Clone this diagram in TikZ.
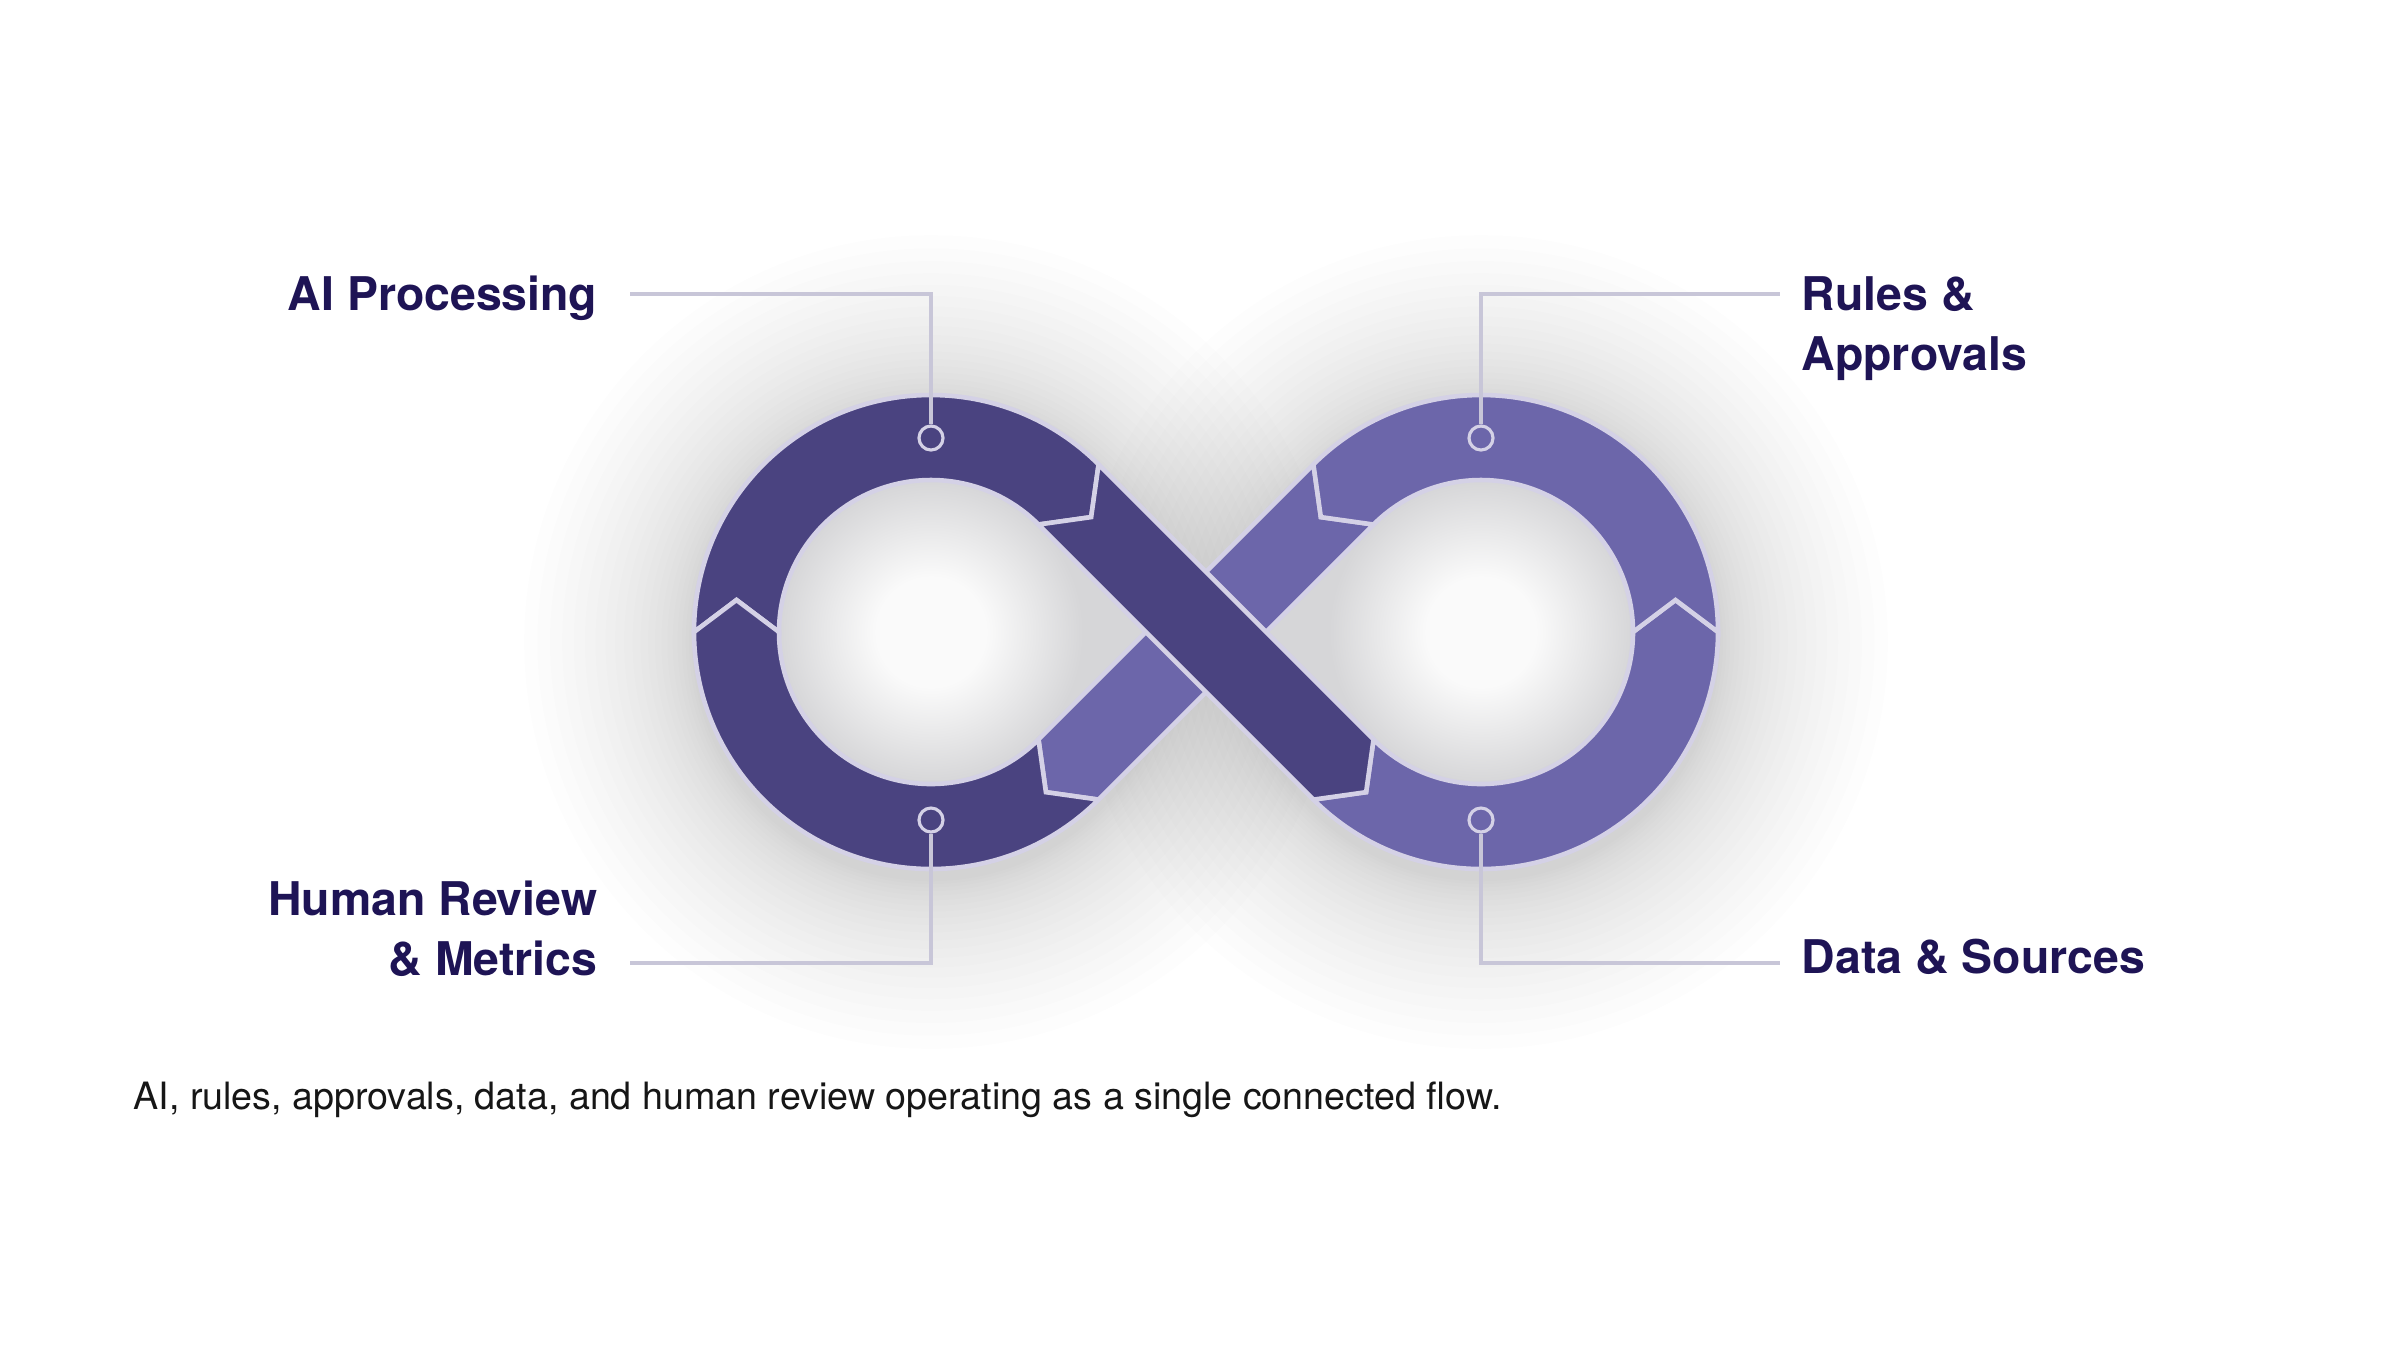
\documentclass[tikz,border=0pt]{standalone}
\usepackage{fontspec}
\setmainfont{TeX Gyre Heros}
\usetikzlibrary{calc}
\definecolor{darkc}{RGB}{74,67,128}
\definecolor{lightc}{RGB}{108,102,170}
\definecolor{gapc}{RGB}{212,209,230}
\definecolor{linec}{RGB}{200,198,216}
\definecolor{navy}{RGB}{30,20,85}
\definecolor{capc}{RGB}{22,22,22}
\definecolor{holein}{RGB}{250,250,250}
\definecolor{holeout}{RGB}{214,214,216}
\pgfdeclareradialshading{holeshade}{\pgfpoint{0bp}{0bp}}{color(0bp)=(holein); color(9bp)=(holein); color(25bp)=(holeout); color(50bp)=(holeout)}
\begin{document}
\begin{tikzpicture}[x=0.01cm,y=0.01cm,
  seg/.style={draw=gapc, line width=1.3pt, line join=miter},
  conn/.style={draw=linec, line width=1.4pt},
  dot/.style={circle, draw=gapc, line width=0.9pt, minimum size=0.24cm, inner sep=0pt},
  lab/.style={font=\fontsize{13.2}{16}\selectfont\bfseries, text=navy, inner sep=0pt},
  captext/.style={font=\fontsize{10.7}{13}\selectfont, text=capc, inner sep=0pt}]
\useasboundingbox (0,0) rectangle (2400,-1350);
\fill[white] (0,0) rectangle (2400,-1350);
\def\RR{237}
\def\rr{152}
\def\mm{194.5}
\def\dd{32}
\coordinate (Lc) at (931,-632);
\coordinate (Rc) at (1481,-632);
% soft halo
\foreach \k in {1,...,22}{
  \fill[black, opacity=0.0062] ($(Lc)+(0,-10)$) circle[radius=\RR+2*\k+0.26*\k*\k];
  \fill[black, opacity=0.0062] ($(Rc)+(0,-10)$) circle[radius=\RR+2*\k+0.26*\k*\k];
}
% chevron points, left loop (clockwise flow)
\coordinate (LO45) at ($(Lc)+(45:\RR)$);
\coordinate (LI45) at ($(Lc)+(45:\rr)$);
\coordinate (LV45) at ($(Lc)+(45:\mm)+(-45:\dd)$);
\coordinate (LO180) at ($(Lc)+(180:\RR)$);
\coordinate (LI180) at ($(Lc)+(180:\rr)$);
\coordinate (LV180) at ($(Lc)+(180:\mm)+(90:\dd)$);
\coordinate (LO315) at ($(Lc)+(315:\RR)$);
\coordinate (LI315) at ($(Lc)+(315:\rr)$);
\coordinate (LV315) at ($(Lc)+(315:\mm)+(225:\dd)$);
% right loop (counterclockwise flow)
\coordinate (RO225) at ($(Rc)+(225:\RR)$);
\coordinate (RI225) at ($(Rc)+(225:\rr)$);
\coordinate (RV225) at ($(Rc)+(225:\mm)+(315:\dd)$);
\coordinate (RO0) at ($(Rc)+(0:\RR)$);
\coordinate (RI0) at ($(Rc)+(0:\rr)$);
\coordinate (RV0) at ($(Rc)+(0:\mm)+(90:\dd)$);
\coordinate (RO135) at ($(Rc)+(135:\RR)$);
\coordinate (RI135) at ($(Rc)+(135:\rr)$);
\coordinate (RV135) at ($(Rc)+(135:\mm)+(225:\dd)$);
% holes
\fill[holeout] (LI45) arc[start angle=45, end angle=315, radius=\rr] -- ($(Lc)+(\rr*1.41421,0)$) -- cycle;
\fill[holeout] (RI135) arc[start angle=135, end angle=-135, radius=\rr] -- ($(Rc)-(\rr*1.41421,0)$) -- cycle;
\shade[shading=holeshade] (Lc) circle[radius=\rr];
\shade[shading=holeshade] (Rc) circle[radius=\rr];
% light band
\path[seg, fill=lightc] (RO135) -- (LI315) -- (LV315) -- (LO315) -- (RI135) -- (RV135) -- cycle;
% left top arc
\path[seg, fill=darkc] (LO180) arc[start angle=180, end angle=45, radius=\RR] -- (LV45) -- (LI45) arc[start angle=45, end angle=180, radius=\rr] -- (LV180) -- cycle;
% left bottom arc
\path[seg, fill=darkc] (LO315) arc[start angle=315, end angle=180, radius=\RR] -- (LV180) -- (LI180) arc[start angle=180, end angle=315, radius=\rr] -- (LV315) -- cycle;
% right bottom arc
\path[seg, fill=lightc] (RO225) arc[start angle=225, end angle=360, radius=\RR] -- (RV0) -- (RI0) arc[start angle=360, end angle=225, radius=\rr] -- (RV225) -- cycle;
% right top arc
\path[seg, fill=lightc] (RO0) arc[start angle=0, end angle=135, radius=\RR] -- (RV135) -- (RI135) arc[start angle=135, end angle=0, radius=\rr] -- (RV0) -- cycle;
% dark band
\path[seg, fill=darkc] (LO45) -- (RI225) -- (RV225) -- (RO225) -- (LI45) -- (LV45) -- cycle;
% markers
\node[dot] (c1) at (931,-438) {};
\node[dot] (c2) at (1481,-438) {};
\node[dot] (c3) at (931,-820) {};
\node[dot] (c4) at (1481,-820) {};
\coordinate (e1) at (630,-294);
\coordinate (e2) at (1780,-294);
\coordinate (e3) at (630,-963);
\coordinate (e4) at (1780,-963);
\draw[conn] (c1.north) |- (e1);
\draw[conn] (c2.north) |- (e2);
\draw[conn] (c3.south) |- (e3);
\draw[conn] (c4.south) |- (e4);
% labels
\node[lab, anchor=base east] (ai) at (598,-310) {AI Processing};
\node[lab, anchor=base east] (hr1) at (598,-915) {Human Review};
\node[lab, anchor=base east] (hr2) at (598,-975) {\& Metrics};
\node[lab, anchor=base west] (ra1) at (1801,-310) {Rules \&};
\node[lab, anchor=base west] (ra2) at (1801,-370) {Approvals};
\node[lab, anchor=base west] (ds) at (1801,-973) {Data \& Sources};
\node[captext, anchor=base west] (cap) at (133,-1109) {AI, rules, approvals, data, and human review operating as a single connected flow.};
\end{tikzpicture}
\end{document}
